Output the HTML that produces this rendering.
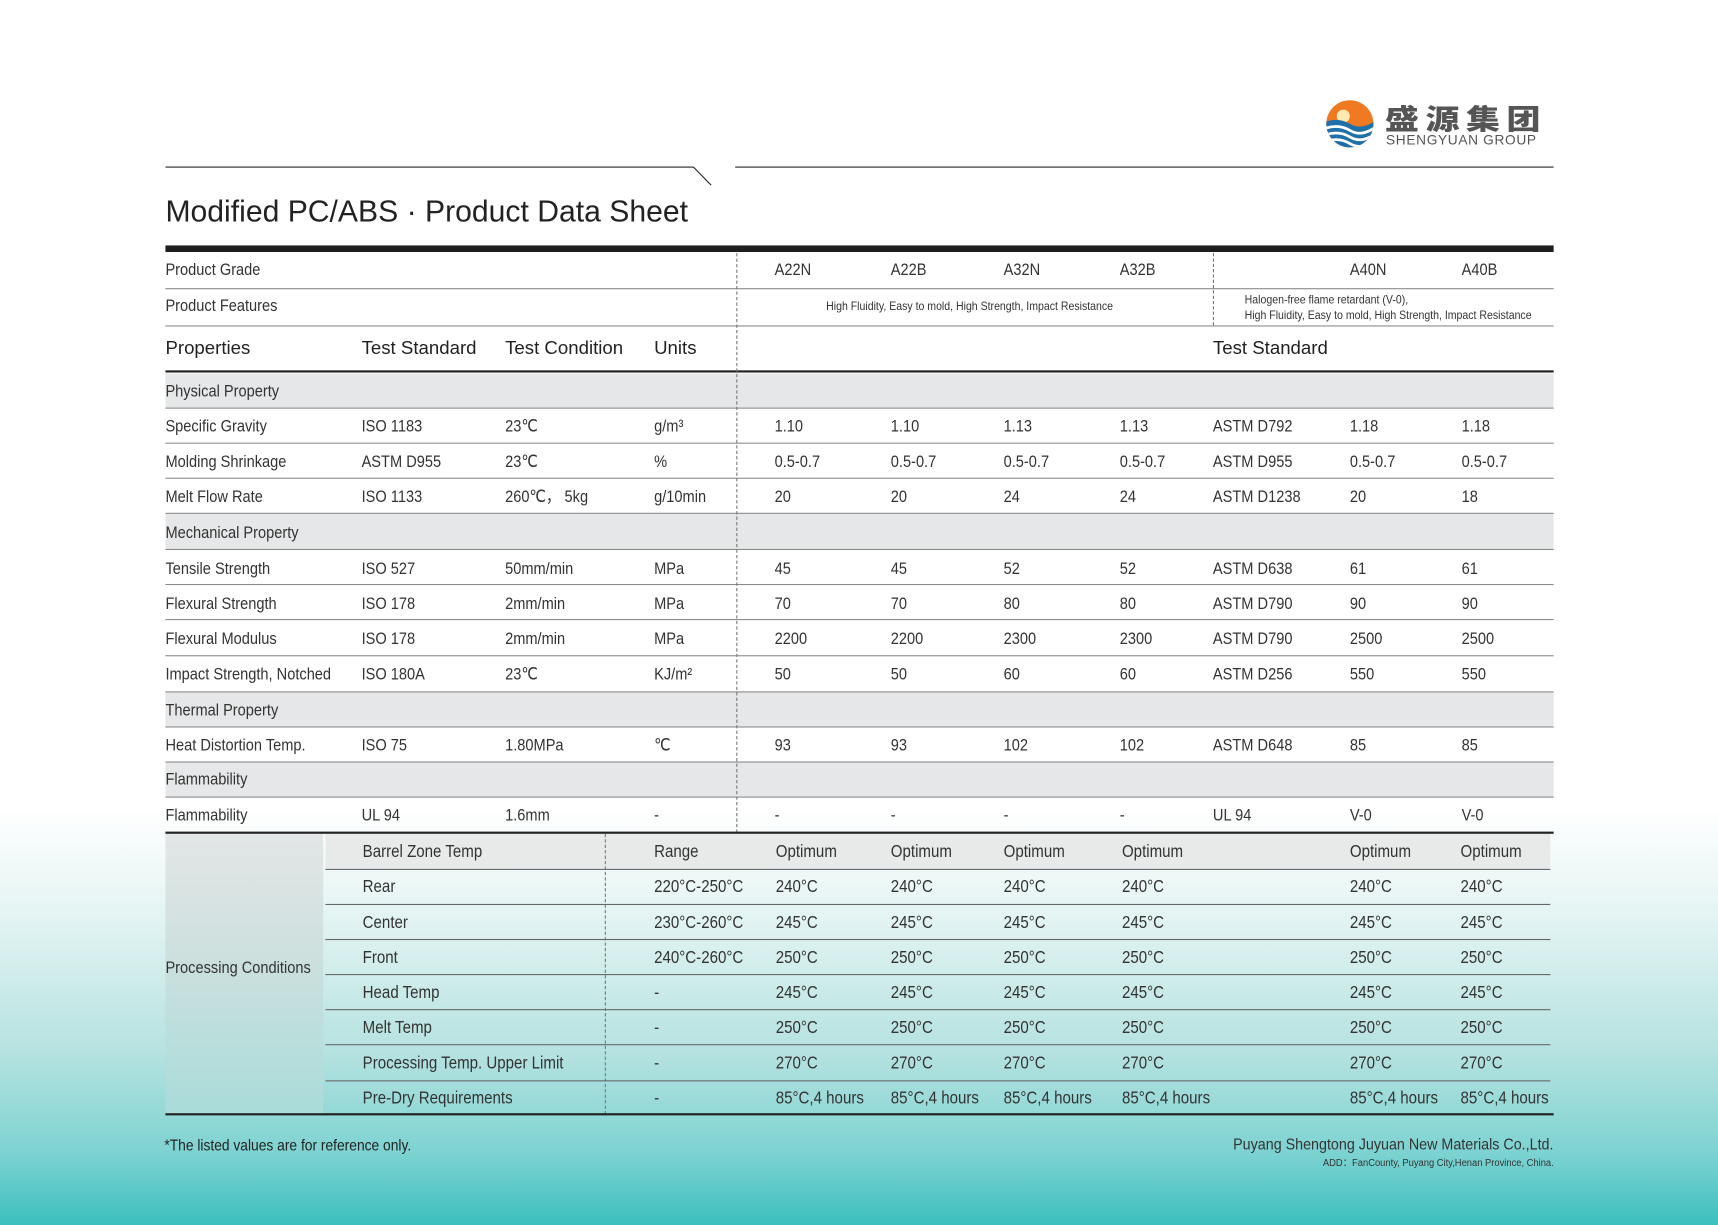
<!DOCTYPE html>
<html><head><meta charset="utf-8">
<style>
html,body{margin:0;padding:0;}
body{width:1718px;height:1225px;overflow:hidden;background:#fff;}
#bg{position:absolute;left:0;top:0;width:1718px;height:1225px;background:linear-gradient(to bottom,#fff 0%,#fff 66%,#e6f5f4 74%,#b5e2e0 86%,#7ed3d2 94%,#3cbfbe 100%);}
#p{position:absolute;left:0;top:0;width:1568px;height:1118px;transform:scale(1.09566);transform-origin:0 0;font-family:"Liberation Sans",sans-serif;color:#333;}
.a{position:absolute;white-space:nowrap;}
.n{transform:scaleX(0.9);transform-origin:0 50%;}
.nr{transform:scaleX(0.9);transform-origin:100% 50%;}
.row{position:absolute;left:151px;width:1267px;}
.row span{position:absolute;top:0;white-space:nowrap;transform:scaleX(0.86);transform-origin:0 50%;}
.row.hd span{transform:none;}
.t{font-size:15.5px;}
.hl{position:absolute;height:1px;background:#8a8a8a;}
.dk{position:absolute;background:#222;}
.vd{position:absolute;width:0;border-left:1px dashed #777;}
.gray{position:absolute;left:151px;width:1267px;background:#e6e7e8;}
.hd{font-family:"Liberation Sans",sans-serif;font-size:17px;color:#222;}
</style></head><body>
<div id="bg"></div>
<div id="p">
<!-- logo -->
<svg class="a" style="left:1210px;top:91px" width="44" height="44" viewBox="0 0 44 44">
<defs><clipPath id="c"><circle cx="22" cy="22" r="21.5"/></clipPath></defs>
<g clip-path="url(#c)">
<rect x="0" y="0" width="44" height="44" fill="#ef7a22"/>
<circle cx="16" cy="15" r="6" fill="#fde9b0"/>
<path d="M0 20 Q12 16 22 22 T44 20 V44 H0Z" fill="#1f6fa8"/>
<path d="M0 26 Q12 22 22 28 T44 26" stroke="#fff" stroke-width="2.5" fill="none"/>
<path d="M0 32 Q12 28 22 34 T44 32" stroke="#fff" stroke-width="2.5" fill="none"/>
<path d="M0 38 Q12 34 22 40 T44 38" stroke="#fff" stroke-width="2.5" fill="none"/>
</g></svg>
<div class="a" style="left:1264px;top:94px;font-family:'Noto Sans CJK SC',sans-serif;font-weight:900;font-size:31px;letter-spacing:6px;color:#555;line-height:32px;transform:scaleY(0.82);transform-origin:0 0">盛源集团</div>
<div class="a" style="left:1265px;top:122px;font-family:'Liberation Sans',sans-serif;font-size:12.5px;color:#555;letter-spacing:0.6px;line-height:13px">SHENGYUAN GROUP</div>
<!-- top lines -->
<div class="dk" style="left:151px;top:152px;width:482px;height:1px"></div>
<svg class="a" style="left:632px;top:152px" width="20" height="20"><line x1="1" y1="0.5" x2="17" y2="17" stroke="#222" stroke-width="1"/></svg>
<div class="dk" style="left:671px;top:152px;width:747px;height:1px"></div>
<div class="a" style="left:151px;top:176px;font-family:'Liberation Sans',sans-serif;font-size:27.5px;color:#222;line-height:34px">Modified PC/ABS · Product Data Sheet</div>
<div class="dk" style="left:151px;top:224px;width:1267px;height:6px;background:#1e1e1e"></div>

<!-- gray rows -->
<div class="gray" style="top:341px;height:31px"></div>
<div class="gray" style="top:469px;height:32px"></div>
<div class="gray" style="top:631px;height:32px"></div>
<div class="gray" style="top:695px;height:32px"></div>

<!-- header rows -->
<div class="row t" style="top:230px;height:33px;line-height:34px;font-size:15.5px">
<span style="left:0">Product Grade</span>
<span style="left:556px">A22N</span><span style="left:662px">A22B</span><span style="left:765px">A32N</span><span style="left:871px">A32B</span>
<span style="left:1081px">A40N</span><span style="left:1183px">A40B</span></div>
<div class="hl" style="left:151px;top:263px;width:1267px"></div>
<div class="row" style="top:263px;height:34px;line-height:34px;font-size:15.5px">
<span style="left:0">Product Features</span>
<span style="left:603px;font-size:11.2px">High Fluidity, Easy to mold, High Strength, Impact Resistance</span>
<span style="left:985px;font-size:11.2px;line-height:14px;top:4px">Halogen-free flame retardant (V-0),<br>High Fluidity, Easy to mold, High Strength, Impact Resistance</span></div>
<div class="hl" style="left:151px;top:297px;width:1267px"></div>
<div class="row hd" style="top:297px;height:42px;line-height:42px">
<span style="left:0">Properties</span><span style="left:179px">Test Standard</span><span style="left:310px">Test Condition</span><span style="left:446px">Units</span><span style="left:956px">Test Standard</span></div>
<div class="dk" style="left:151px;top:338px;width:1267px;height:2px"></div>

<!-- data rows -->
<div class="row t" style="top:341px;height:31px;line-height:34px"><span style="left:0">Physical Property</span></div>
<div class="row t" style="top:372px;height:32px;line-height:36px"><span style="left:0">Specific Gravity</span><span style="left:179px">ISO 1183</span><span style="left:310px">23℃</span><span style="left:446px">g/m³</span><span style="left:556px">1.10</span><span style="left:662px">1.10</span><span style="left:765px">1.13</span><span style="left:871px">1.13</span><span style="left:956px">ASTM D792</span><span style="left:1081px">1.18</span><span style="left:1183px">1.18</span></div>
<div class="row t" style="top:404px;height:32px;line-height:36px"><span style="left:0">Molding Shrinkage</span><span style="left:179px">ASTM D955</span><span style="left:310px">23℃</span><span style="left:446px">%</span><span style="left:556px">0.5-0.7</span><span style="left:662px">0.5-0.7</span><span style="left:765px">0.5-0.7</span><span style="left:871px">0.5-0.7</span><span style="left:956px">ASTM D955</span><span style="left:1081px">0.5-0.7</span><span style="left:1183px">0.5-0.7</span></div>
<div class="row t" style="top:436px;height:32px;line-height:36px"><span style="left:0">Melt Flow Rate</span><span style="left:179px">ISO 1133</span><span style="left:310px">260℃， 5kg</span><span style="left:446px">g/10min</span><span style="left:556px">20</span><span style="left:662px">20</span><span style="left:765px">24</span><span style="left:871px">24</span><span style="left:956px">ASTM D1238</span><span style="left:1081px">20</span><span style="left:1183px">18</span></div>
<div class="row t" style="top:469px;height:32px;line-height:36px"><span style="left:0">Mechanical Property</span></div>
<div class="row t" style="top:501px;height:32px;line-height:38px"><span style="left:0">Tensile Strength</span><span style="left:179px">ISO 527</span><span style="left:310px">50mm/min</span><span style="left:446px">MPa</span><span style="left:556px">45</span><span style="left:662px">45</span><span style="left:765px">52</span><span style="left:871px">52</span><span style="left:956px">ASTM D638</span><span style="left:1081px">61</span><span style="left:1183px">61</span></div>
<div class="row t" style="top:533px;height:32px;line-height:38px"><span style="left:0">Flexural Strength</span><span style="left:179px">ISO 178</span><span style="left:310px">2mm/min</span><span style="left:446px">MPa</span><span style="left:556px">70</span><span style="left:662px">70</span><span style="left:765px">80</span><span style="left:871px">80</span><span style="left:956px">ASTM D790</span><span style="left:1081px">90</span><span style="left:1183px">90</span></div>
<div class="row t" style="top:565px;height:33px;line-height:38px"><span style="left:0">Flexural Modulus</span><span style="left:179px">ISO 178</span><span style="left:310px">2mm/min</span><span style="left:446px">MPa</span><span style="left:556px">2200</span><span style="left:662px">2200</span><span style="left:765px">2300</span><span style="left:871px">2300</span><span style="left:956px">ASTM D790</span><span style="left:1081px">2500</span><span style="left:1183px">2500</span></div>
<div class="row t" style="top:598px;height:33px;line-height:36px"><span style="left:0">Impact Strength, Notched</span><span style="left:179px">ISO 180A</span><span style="left:310px">23℃</span><span style="left:446px">KJ/m²</span><span style="left:556px">50</span><span style="left:662px">50</span><span style="left:765px">60</span><span style="left:871px">60</span><span style="left:956px">ASTM D256</span><span style="left:1081px">550</span><span style="left:1183px">550</span></div>
<div class="row t" style="top:631px;height:32px;line-height:36px"><span style="left:0">Thermal Property</span></div>
<div class="row t" style="top:663px;height:32px;line-height:36px"><span style="left:0">Heat Distortion Temp.</span><span style="left:179px">ISO 75</span><span style="left:310px">1.80MPa</span><span style="left:446px">℃</span><span style="left:556px">93</span><span style="left:662px">93</span><span style="left:765px">102</span><span style="left:871px">102</span><span style="left:956px">ASTM D648</span><span style="left:1081px">85</span><span style="left:1183px">85</span></div>
<div class="row t" style="top:695px;height:32px;line-height:34px"><span style="left:0">Flammability</span></div>
<div class="row t" style="top:727px;height:33px;line-height:36px"><span style="left:0">Flammability</span><span style="left:179px">UL 94</span><span style="left:310px">1.6mm</span><span style="left:446px">-</span><span style="left:556px">-</span><span style="left:662px">-</span><span style="left:765px">-</span><span style="left:871px">-</span><span style="left:956px">UL 94</span><span style="left:1081px">V-0</span><span style="left:1183px">V-0</span></div>

<div class="hl" style="left:151px;top:372px;width:1267px"></div>
<div class="hl" style="left:151px;top:404px;width:1267px"></div>
<div class="hl" style="left:151px;top:436px;width:1267px"></div>
<div class="hl" style="left:151px;top:468px;width:1267px"></div>
<div class="hl" style="left:151px;top:501px;width:1267px"></div>
<div class="hl" style="left:151px;top:533px;width:1267px"></div>
<div class="hl" style="left:151px;top:565px;width:1267px"></div>
<div class="hl" style="left:151px;top:598px;width:1267px"></div>
<div class="hl" style="left:151px;top:631px;width:1267px"></div>
<div class="hl" style="left:151px;top:663px;width:1267px"></div>
<div class="hl" style="left:151px;top:695px;width:1267px"></div>
<div class="hl" style="left:151px;top:727px;width:1267px"></div>
<div class="vd" style="left:672px;top:231px;height:529px"></div>
<div class="vd" style="left:1107px;top:231px;height:66px"></div>

<!-- processing -->
<div class="a" style="left:151px;top:761px;width:144px;height:256px;background:linear-gradient(to bottom,#e3e6e6,#cfe0df 40%,#a9dcd9 100%)"></div>
<div class="a" style="left:297px;top:761px;width:1118px;height:32px;background:#e8eaea"></div>
<div class="dk" style="left:151px;top:759px;width:1267px;height:2px"></div>
<div class="a n" style="left:151px;top:873px;font-size:15.5px;line-height:22px;transform:scaleX(0.86)">Processing Conditions</div>
<div class="vd" style="left:552px;top:761px;height:256px"></div>
<div class="row" style="top:761px;height:32px;line-height:33px;font-size:16px"><span style="left:180px">Barrel Zone Temp</span><span style="left:446px">Range</span><span style="left:557px">Optimum</span><span style="left:662px">Optimum</span><span style="left:765px">Optimum</span><span style="left:873px">Optimum</span><span style="left:1081px">Optimum</span><span style="left:1182px">Optimum</span></div>
<div class="row" style="top:793px;height:32px;line-height:33px;font-size:16px"><span style="left:180px">Rear</span><span style="left:446px">220°C-250°C</span><span style="left:557px">240°C</span><span style="left:662px">240°C</span><span style="left:765px">240°C</span><span style="left:873px">240°C</span><span style="left:1081px">240°C</span><span style="left:1182px">240°C</span></div>
<div class="row" style="top:825px;height:32px;line-height:35px;font-size:16px"><span style="left:180px">Center</span><span style="left:446px">230°C-260°C</span><span style="left:557px">245°C</span><span style="left:662px">245°C</span><span style="left:765px">245°C</span><span style="left:873px">245°C</span><span style="left:1081px">245°C</span><span style="left:1182px">245°C</span></div>
<div class="row" style="top:857px;height:32px;line-height:35px;font-size:16px"><span style="left:180px">Front</span><span style="left:446px">240°C-260°C</span><span style="left:557px">250°C</span><span style="left:662px">250°C</span><span style="left:765px">250°C</span><span style="left:873px">250°C</span><span style="left:1081px">250°C</span><span style="left:1182px">250°C</span></div>
<div class="row" style="top:889px;height:32px;line-height:35px;font-size:16px"><span style="left:180px">Head Temp</span><span style="left:446px">-</span><span style="left:557px">245°C</span><span style="left:662px">245°C</span><span style="left:765px">245°C</span><span style="left:873px">245°C</span><span style="left:1081px">245°C</span><span style="left:1182px">245°C</span></div>
<div class="row" style="top:921px;height:32px;line-height:35px;font-size:16px"><span style="left:180px">Melt Temp</span><span style="left:446px">-</span><span style="left:557px">250°C</span><span style="left:662px">250°C</span><span style="left:765px">250°C</span><span style="left:873px">250°C</span><span style="left:1081px">250°C</span><span style="left:1182px">250°C</span></div>
<div class="row" style="top:953px;height:33px;line-height:35px;font-size:16px"><span style="left:180px">Processing Temp. Upper Limit</span><span style="left:446px">-</span><span style="left:557px">270°C</span><span style="left:662px">270°C</span><span style="left:765px">270°C</span><span style="left:873px">270°C</span><span style="left:1081px">270°C</span><span style="left:1182px">270°C</span></div>
<div class="row" style="top:986px;height:31px;line-height:33px;font-size:16px"><span style="left:180px">Pre-Dry Requirements</span><span style="left:446px">-</span><span style="left:557px">85°C,4 hours</span><span style="left:662px">85°C,4 hours</span><span style="left:765px">85°C,4 hours</span><span style="left:873px">85°C,4 hours</span><span style="left:1081px">85°C,4 hours</span><span style="left:1182px">85°C,4 hours</span></div>
<div class="hl" style="left:297px;top:793px;width:1118px;background:#666"></div>
<div class="hl" style="left:297px;top:825px;width:1118px;background:#666"></div>
<div class="hl" style="left:297px;top:857px;width:1118px;background:#666"></div>
<div class="hl" style="left:297px;top:889px;width:1118px;background:#666"></div>
<div class="hl" style="left:297px;top:921px;width:1118px;background:#666"></div>
<div class="hl" style="left:297px;top:953px;width:1118px;background:#666"></div>
<div class="hl" style="left:297px;top:986px;width:1118px;background:#666"></div>
<div class="dk" style="left:151px;top:1016px;width:1267px;height:2px"></div>

<!-- footer -->
<div class="a n" style="left:150px;top:1036px;font-size:14px;line-height:18px;color:#222">*The listed values are for reference only.</div>
<div class="a nr" style="right:150px;top:1036px;font-size:14.5px;line-height:18px;color:#333">Puyang Shengtong Juyuan New Materials Co.,Ltd.</div>
<div class="a nr" style="right:150px;top:1056px;font-size:9.5px;line-height:12px;color:#333">ADD：FanCounty, Puyang City,Henan Province, China.</div>
</div>
</body></html>
